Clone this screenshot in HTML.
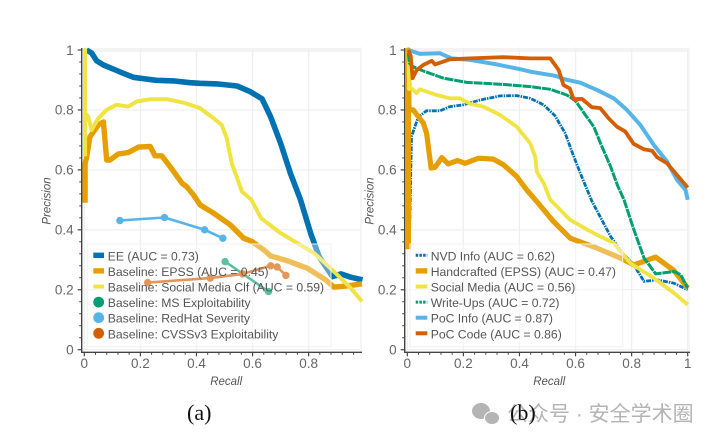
<!DOCTYPE html>
<html lang="en">
<head>
<meta charset="utf-8">
<title>Precision-Recall Charts</title>
<style>
html,body{margin:0;padding:0;background:#fff;width:713px;height:442px;overflow:hidden}
svg{display:block;position:absolute;left:0;top:0;filter:blur(0.35px)}
text{font-family:"Liberation Sans","Noto Sans CJK SC",sans-serif}
.tick{font-size:13.5px;fill:#666}
.title{font-size:11.5px;font-style:italic;fill:#555}
.leg{font-size:12.2px;fill:#555}
.cap{font-family:"Liberation Serif",serif;font-size:22px;fill:#111}
.wm{font-size:21px;fill:#b4b4b4;font-family:"Liberation Sans","Noto Sans CJK SC",sans-serif}
</style>
</head>
<body>
<svg id="figure" width="713" height="442" viewBox="0 0 713 442" xmlns="http://www.w3.org/2000/svg">
  <g id="chart-a"></g>
  <g id="chart-b"></g>
  <text class="cap" x="187" y="420">(a)</text>
  <g>
    <ellipse cx="481" cy="411" rx="9" ry="8" fill="#b4b4b4"></ellipse>
    <ellipse cx="492" cy="418" rx="7.5" ry="6.5" fill="#b4b4b4" stroke="#fff" stroke-width="1"></ellipse>
    <text class="wm" x="507" y="421">公众号 · 安全学术圈</text>
  </g>
  <text class="cap" x="510" y="420">(b)</text>
</svg>
<script>
const xTicks = [0, 0.2, 0.4, 0.6, 0.8];
const xTicksB = [0, 0.2, 0.4, 0.6, 0.8, 1];
const yTicks = [0, 0.2, 0.4, 0.6, 0.8, 1];
const xTickLabels = ['0', '0.2', '0.4', '0.6', '0.8'];
const xTickLabelsB = ['0', '0.2', '0.4', '0.6', '0.8', '1'];
const yTickLabels = ['0', '0.2', '0.4', '0.6', '0.8', '1'];

const eeRecall = [.008,.026,.044,.068,.104,.14,.175,.223,.258,.318,.377,.413,.473,.545,.592,.634,.664,.70,.735,.771,.807,.837,.885,.915,.95,.992];
const eePrecision = [1,.99,.964,.95,.936,.922,.909,.903,.899,.897,.891,.889,.887,.88,.861,.837,.778,.689,.589,.5,.389,.311,.244,.253,.242,.233];
const epssRecall = [.003,.003,.008,.02,.05,.068,.08,.092,.121,.157,.193,.235,.252,.276,.306,.348,.365,.389,.413,.46,.52,.568,.598,.64,.664,.723,.795,.861,.89,.938,.99];
const epssPrecision = [.49,.62,.64,.71,.75,.76,.633,.633,.653,.658,.676,.678,.647,.647,.611,.556,.544,.517,.483,.456,.417,.372,.361,.333,.313,.297,.272,.233,.209,.213,.22];
const socialRecall = [.003,.003,.003,.014,.026,.05,.08,.115,.157,.187,.235,.294,.354,.413,.461,.49,.508,.526,.562,.596,.63,.70,.82,.89,.95,.99];
const socialPrecision = [.645,1,.79,.778,.733,.772,.8,.817,.811,.828,.836,.836,.824,.806,.772,.75,.706,.622,.528,.5,.439,.389,.322,.261,.206,.161];
const msRecall = [.502,.657];
const msPrecision = [.294,.194];
const redhatRecall = [.127,.286,.429,.494];
const redhatPrecision = [.431,.441,.4,.372];
const cvssRecall = [.226,.449,.565,.665,.688,.719];
const cvssPrecision = [.224,.239,.253,.28,.276,.248];

const nvdRecall = [.007,.015,.039,.069,.117,.152,.2,.26,.331,.39,.438,.486,.527,.563,.587,.617,.659,.725,.767,.808,.844,.892,.951,1];
const nvdPrecision = [.35,.711,.776,.797,.797,.811,.817,.833,.847,.848,.839,.817,.78,.722,.661,.589,.494,.378,.322,.283,.228,.233,.222,.2];
const craftedRecall = [.004,.004,.006,.021,.057,.069,.085,.099,.123,.146,.179,.206,.254,.307,.343,.39,.426,.462,.521,.581,.676,.76,.808,.886,.951,1];
const craftedPrecision = [.335,1,.8,.8,.756,.722,.606,.609,.641,.62,.631,.622,.639,.636,.617,.578,.533,.494,.428,.372,.339,.306,.283,.309,.264,.206];
const mediaRecall = [.004,.006,.015,.033,.045,.105,.152,.188,.224,.271,.331,.39,.438,.456,.462,.486,.51,.581,.664,.736,.795,.879,.951,1];
const mediaPrecision = [1,.87,.872,.856,.869,.85,.839,.839,.82,.811,.783,.744,.689,.644,.594,.556,.5,.433,.389,.356,.289,.239,.189,.15];
const writeRecall = [.004,.007,.021,.063,.129,.212,.331,.438,.51,.569,.599,.635,.665,.689,.725,.749,.773,.808,.844,.886,.951,.975,1];
const writePrecision = [.99,.956,.944,.928,.906,.892,.886,.878,.869,.85,.831,.783,.744,.689,.611,.55,.5,.4,.306,.253,.261,.25,.206];
const infoRecall = [.004,.045,.117,.158,.224,.319,.402,.438,.527,.563,.617,.676,.736,.783,.831,.879,.926,.962,.992,1];
const infoPrecision = [1,.987,.989,.972,.967,.952,.936,.928,.914,.902,.891,.867,.839,.8,.75,.683,.628,.567,.533,.5];
const codeRecall = [.004,.012,.019,.033,.057,.087,.099,.152,.224,.343,.438,.51,.54,.557,.579,.593,.623,.658,.688,.718,.748,.777,.807,.843,.873,.891,.926,.962,1];
const codePrecision = [1,.98,.906,.933,.95,.964,.952,.969,.972,.976,.972,.972,.933,.883,.872,.836,.837,.809,.806,.772,.744,.728,.687,.669,.664,.642,.622,.583,.541];

const legendA = ['EE (AUC = 0.73)','Baseline: EPSS (AUC = 0.45)','Baseline: Social Media Clf (AUC = 0.59)','Baseline: MS Exploitability','Baseline: RedHat Severity','Baseline: CVSSv3 Exploitability'];
const legendB = ['NVD Info (AUC = 0.62)','Handcrafted (EPSS) (AUC = 0.47)','Social Media (AUC = 0.56)','Write-Ups (AUC = 0.72)','PoC Info (AUC = 0.87)','PoC Code (AUC = 0.86)'];

const NS = 'http://www.w3.org/2000/svg';
function mk(parent, tag, attrs, txt) {
  const el = document.createElementNS(NS, tag);
  for (const k in attrs) el.setAttribute(k, attrs[k]);
  if (txt !== undefined) el.textContent = txt;
  parent.appendChild(el);
  return el;
}
const yScale = v => 349.7 - 299.7 * v;

function drawAxes(g, x0, xEnd, axisX, xT, xL) {
  const xScale = v => x0 + 280.4 * v;
  const top = 47.5, axisY = 352.3;
  yTicks.forEach((t, i) => {
    const gl = mk(g, 'line', {x1: axisX, x2: xEnd, y1: yScale(t), y2: yScale(t), stroke: i === 5 ? '#f3f3f3' : '#f0f0f0', 'stroke-width': i === 5 ? 4 : 1.3});
    
    
  });
  xT.forEach(t => {
    const gl = mk(g, 'line', {x1: xScale(t), x2: xScale(t), y1: top, y2: axisY, stroke: '#efefef', 'stroke-width': 1.3});
    
    
  });
  const rightBand = mk(g, 'line', {x1: xEnd - 1, x2: xEnd - 1, y1: top, y2: axisY, stroke: '#f5f5f5', 'stroke-width': 2});
  
  
  return xScale;
}

function drawFrame(g, xScale, xEnd, axisX, xT, xL, lastMinor) {
  const axisY = 352.3, top = 48;
  const ya = mk(g, 'line', {x1: axisX, x2: axisX, y1: top, y2: axisY + .7, stroke: '#444', 'stroke-width': 1.4});
  
  
  const xa = mk(g, 'line', {x1: axisX, x2: xEnd, y1: axisY, y2: axisY, stroke: '#444', 'stroke-width': 1.4});
  
  
  for (let i = 0; i <= 25; i++) {
    const major = i % 5 === 0;
    const v = i / 25;
    const tk = mk(g, 'line', {x1: axisX - (major ? 4 : 2.5), x2: axisX, y1: yScale(v), y2: yScale(v), stroke: '#444', 'stroke-width': major ? 1.2 : 1});
    
    
  }
  for (let i = 0; i <= lastMinor; i++) {
    const major = i % 5 === 0;
    const px = xScale(i / 25);
    const tk = mk(g, 'line', {x1: px, x2: px, y1: axisY, y2: axisY + (major ? 4 : 2.5), stroke: '#444', 'stroke-width': major ? 1.2 : 1});
    
    
  }
  yTicks.forEach((t, i) => {
    const lb = mk(g, 'text', {class: 'tick', x: axisX - 8, y: yScale(t) + 4.8, 'text-anchor': 'end'}, yTickLabels[i]);
    
    
  });
  xT.forEach((t, i) => {
    const lb = mk(g, 'text', {class: 'tick', x: xScale(t), y: 368, 'text-anchor': 'middle'}, xL[i]);
    
    
  });
  const cx = axisX - 31;
  const yt = mk(g, 'text', {class: 'title', x: cx, y: 201, 'text-anchor': 'middle', transform: 'rotate(-90 ' + cx + ' 201)'}, 'Precision');
  
  
  const xt = mk(g, 'text', {class: 'title', x: axisX + 144.5, y: 385, 'text-anchor': 'middle'}, 'Recall');
  
  
}

function drawSeries(g, xScale, name, rec, prec, color, width, dash) {
  const pts = rec.map((r, i) => xScale(r).toFixed(1) + ',' + yScale(prec[i]).toFixed(1)).join(' ');
  const attrs = {points: pts, fill: 'none', stroke: color, 'stroke-width': width, 'stroke-linejoin': 'round', 'stroke-linecap': 'butt'};
  if (dash) attrs['stroke-dasharray'] = dash;
  const el = mk(g, 'polyline', attrs);
  
  
}

function drawMarkers(g, xScale, name, rec, prec, color) {
  drawSeries(g, xScale, name, rec, prec, color, 2.6);
  rec.forEach((r, i) => {
    const c = mk(g, 'circle', {cx: xScale(r), cy: yScale(prec[i]), r: 3.7, fill: color});
    
    
  });
}

function drawLegend(g, x, w, textX, glyphX, glyphW, labels, glyphs) {
  const box = mk(g, 'rect', {x: x, y: 244, width: w, height: 102.7, fill: 'rgba(255,255,255,.35)', stroke: '#f0f0f0', 'stroke-width': 1});
  
  
  labels.forEach((lab, i) => {
    const cy = 255.3 + 15.6 * i;
    const gl = glyphs[i];
    if (gl.circle) {
      const c = mk(g, 'circle', {cx: glyphX + glyphW / 2, cy: cy, r: 5.4, fill: gl.color});
      
      
    } else {
      const attrs = {x1: glyphX, x2: glyphX + glyphW, y1: cy, y2: cy, stroke: gl.color, 'stroke-width': gl.w};
      if (gl.dash) attrs['stroke-dasharray'] = gl.dash;
      const l = mk(g, 'line', attrs);
      
      
    }
    const t = mk(g, 'text', {class: 'leg', x: textX, y: cy + 5}, lab);
    
    
  });
}

const BLUE = '#0072b2', ORANGE = '#e69f00', YELLOW = '#f0e442', GREEN = '#009e73', SKY = '#56b4e9', VERM = '#d55e00';

const ga = document.getElementById('chart-a');
const sa = drawAxes(ga, 84.3, 362, 81.7, xTicks, xTickLabels);
drawSeries(ga, sa, 'series-ee', eeRecall, eePrecision, BLUE, 5.6);
drawSeries(ga, sa, 'series-epss', epssRecall, epssPrecision, ORANGE, 5.4);
drawSeries(ga, sa, 'series-social-media', socialRecall, socialPrecision, YELLOW, 4);
drawMarkers(ga, sa, 'series-ms', msRecall, msPrecision, GREEN);
drawMarkers(ga, sa, 'series-redhat', redhatRecall, redhatPrecision, SKY);
drawMarkers(ga, sa, 'series-cvss', cvssRecall, cvssPrecision, VERM);
drawLegend(ga, 87.3, 243.7, 107.7, 93.3, 10.7, legendA, [
  {color: BLUE, w: 5.4}, {color: ORANGE, w: 5.4}, {color: YELLOW, w: 4},
  {color: GREEN, circle: true}, {color: SKY, circle: true}, {color: VERM, circle: true}
]);
drawFrame(ga, sa, 362, 81.7, xTicks, xTickLabels, 24);

const gb = document.getElementById('chart-b');
const sb = drawAxes(gb, 407.3, 690, 404.7, xTicksB, xTickLabelsB);
drawSeries(gb, sb, 'series-nvd-info', nvdRecall, nvdPrecision, BLUE, 2.8, '5 1 1.5 1');
drawSeries(gb, sb, 'series-handcrafted', craftedRecall, craftedPrecision, ORANGE, 5.2);
drawSeries(gb, sb, 'series-social-media', mediaRecall, mediaPrecision, YELLOW, 3.8);
drawSeries(gb, sb, 'series-write-ups', writeRecall, writePrecision, GREEN, 3, '9 0.8');
drawSeries(gb, sb, 'series-poc-info', infoRecall, infoPrecision, SKY, 4);
drawSeries(gb, sb, 'series-poc-code', codeRecall, codePrecision, VERM, 3.8);
drawLegend(gb, 410, 212.7, 430.7, 415.7, 11.6, legendB, [
  {color: BLUE, w: 3, dash: '2.5 1.2'}, {color: ORANGE, w: 5.4}, {color: YELLOW, w: 4},
  {color: GREEN, w: 3, dash: '2.5 1.2'}, {color: SKY, w: 4}, {color: VERM, w: 4}
]);
drawFrame(gb, sb, 690, 404.7, xTicksB, xTickLabelsB, 25);
</script>
</body>
</html>
